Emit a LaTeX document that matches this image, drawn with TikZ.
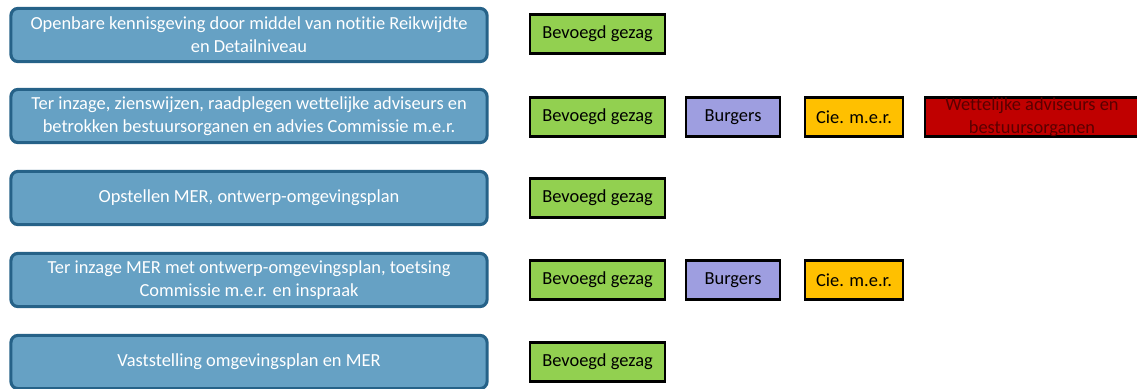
\documentclass[tikz,border=0pt]{standalone}
\usepackage{fontspec}
\setmainfont[Ligatures=NoCommon]{Carlito}
\usepackage{xcolor}
\definecolor{fasefill}{RGB}{102,161,196}
\definecolor{faserand}{RGB}{38,98,136}
\definecolor{groen}{RGB}{146,208,80}
\definecolor{paars}{RGB}{158,158,224}
\definecolor{oranje}{RGB}{255,192,0}
\definecolor{rood}{RGB}{192,0,0}
\definecolor{donkerrood}{RGB}{90,0,0}

\begin{document}
\begin{tikzpicture}[x=0.025cm,y=-0.025cm]
\tikzstyle{every node}=[font=\fontsize{13.1}{16.4}\selectfont]
\tikzstyle{fase}=[draw=faserand, fill=fasefill, line width=2.2pt, rounded corners=5pt, minimum width=11.9cm, minimum height=1.33cm, align=center, text=white]
\tikzstyle{rol}=[draw=black, line width=2pt, minimum height=0.98cm, inner sep=0pt]
\useasboundingbox (0,0) rectangle (1137,388);
% fasen
\node (f1) [fase] at (249,35) {Openbare kennisgeving door middel van notitie Reikwijdte\\en Detailniveau};
\node (f2) [fase] at (249,116) {Ter inzage, zienswijzen, raadplegen wettelijke adviseurs en\\betrokken bestuursorganen en advies Commissie m.e.r.};
\node (f3) [fase] at (249,198) {Opstellen MER, ontwerp-omgevingsplan};
\node (f4) [fase] at (249,280) {Ter inzage MER met ontwerp-omgevingsplan, toetsing\\Commissie m.e.r. en inspraak};
\node (f5) [fase] at (249,362) {Vaststelling omgevingsplan en MER};
% rollen
\node (g1) [rol, fill=groen, minimum width=3.37cm] at (597.5,34) {Bevoegd gezag};
\node (g2) [rol, fill=groen, minimum width=3.37cm] at (597.5,117) {Bevoegd gezag};
\node (b2) [rol, fill=paars, minimum width=2.35cm] at (733,117) {Burgers};
\node (c2) [rol, fill=oranje, minimum width=2.45cm] at (854,117) {Cie. m.e.r.};
\node (w2) [rol, fill=rood, minimum width=5.35cm, align=center, text=donkerrood] at (1032,117) {Wettelijke adviseurs en\\bestuursorganen};
\node (g3) [rol, fill=groen, minimum width=3.37cm] at (597.5,198) {Bevoegd gezag};
\node (g4) [rol, fill=groen, minimum width=3.37cm] at (597.5,280) {Bevoegd gezag};
\node (b4) [rol, fill=paars, minimum width=2.35cm] at (733,280) {Burgers};
\node (c4) [rol, fill=oranje, minimum width=2.45cm] at (854,280) {Cie. m.e.r.};
\node (g5) [rol, fill=groen, minimum width=3.37cm] at (597.5,362) {Bevoegd gezag};
\end{tikzpicture}
\end{document}
